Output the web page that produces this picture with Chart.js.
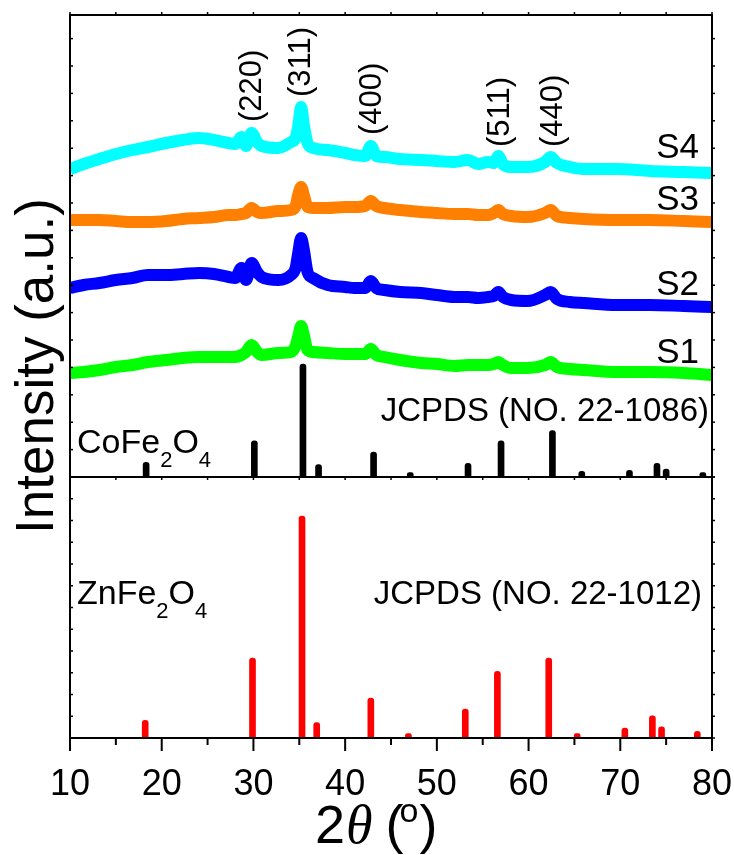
<!DOCTYPE html>
<html>
<head>
<meta charset="utf-8">
<title>XRD patterns S1-S4</title>
<script src="https://cdn.jsdelivr.net/npm/chart.js@4.4.1/dist/chart.umd.min.js"></script>
<style>
  html, body { margin: 0; padding: 0; background: #fff; }
  #wrap { width: 734px; height: 855px; }
</style>
</head>
<body>
<div id="wrap"><canvas id="xrd"></canvas></div>
<script>
// 2-theta grid shared by the four measured patterns
const twoTheta = [10, 11.5, 13.2, 15, 16.8, 18.5, 20.5, 22.3, 24.1, 25.7,
  27.3, 28.0, 28.7, 29.2, 29.8, 30.4, 30.9, 32.7, 34.1, 34.6,
  34.9, 35.2, 35.5, 35.9, 36.5, 38.1, 40, 41, 42.2, 42.8,
  43.4, 44.3, 46, 48.3, 50, 51.9, 53.4, 54.5, 55.6, 56.2,
  56.7, 57.2, 58.1, 59.9, 61.8, 62.4, 63.1, 64.5, 66, 69.6,
  73.2, 76.9, 80];

// intensities (a.u., already offset for stacking)
const s1 = [104, 105, 107, 110, 112, 115, 117, 119, 120, 120,
  120, 120, 122, 125, 132, 125, 122, 124, 125, 131,
  141, 151, 142, 127, 125, 124, 123, 123, 123, 128,
  122, 120, 117, 114, 113, 111, 112, 112, 112, 113,
  115, 112, 109, 109, 112, 115, 110, 108, 107, 105,
  105, 104, 102];
const s2 = [189, 192, 194, 197, 199, 202, 202, 203, 204, 203,
  200, 199, 209, 197, 214, 205, 200, 197, 202, 209,
  225, 239, 227, 205, 199, 192, 190, 189, 189, 196,
  189, 187, 185, 184, 182, 180, 180, 179, 180, 181,
  185, 180, 177, 176, 182, 185, 178, 175, 174, 172,
  172, 171, 170];
const s3 = [257, 257, 257, 256, 255, 255, 256, 258, 259, 260,
  262, 262, 263, 264, 269, 265, 264, 266, 267, 271,
  283, 290, 282, 270, 269, 269, 270, 270, 271, 276,
  271, 269, 267, 265, 264, 263, 263, 262, 262, 264,
  267, 263, 261, 260, 264, 267, 261, 259, 258, 257,
  257, 256, 255];
const s4 = [308, 313, 318, 323, 327, 330, 334, 337, 339, 337,
  334, 333, 340, 331, 344, 335, 331, 329, 335, 339,
  352, 370, 352, 334, 329, 327, 324, 322, 321, 331,
  321, 320, 318, 317, 316, 315, 317, 313, 315, 314,
  321, 313, 310, 310, 315, 320, 314, 310, 308, 308,
  306, 305, 304];

const sampleNames = ['S1', 'S2', 'S3', 'S4'];
const sampleColors = ['#00ff00', '#0000ff', '#ff8000', '#00ffff'];

// reference cards, relative intensity in %
const cofePos = [18.3, 30.1, 35.4, 37.1, 43.1, 47.1, 53.4, 57.0, 62.6, 65.8, 71.0, 74.0, 75.0, 79.0];
const cofeRel = [13, 32, 100, 11, 22, 4, 12, 32, 41, 5, 6, 12, 7, 4];
const znfePos = [18.2, 29.9, 35.3, 36.9, 42.8, 46.9, 53.1, 56.6, 62.2, 65.3, 70.5, 73.5, 74.5, 78.4];
const znfeRel = [8, 36, 100, 7, 18, 2, 13, 30, 36, 2, 4.5, 10, 5, 3];

const peakLabels = ['(220)', '(311)', '(400)', '(511)', '(440)'];
const peakAngles = [29.9, 35.2, 43.0, 56.9, 62.7];

const FONT = '"Liberation Sans", Arial, sans-serif';
const COFE_SCALE = 1.13; // a.u. per % in the upper panel

const curve = (ys) => twoTheta.map((t, i) => ({ x: t, y: ys[i] }));
const sampleSets = [s1, s2, s3, s4].map((ys, i) => ({
  type: 'line',
  label: sampleNames[i],
  data: curve(ys),
  yAxisID: 'yTop',
  borderColor: sampleColors[i],
  borderWidth: 12,
  borderJoinStyle: 'round',
  pointRadius: 0,
  cubicInterpolationMode: 'monotone',
  fill: false,
}));

const stickSet = (label, pos, rel, k, color, axis) => ({
  type: 'bar',
  label,
  data: pos.map((p, i) => ({ x: p, y: rel[i] * k })),
  yAxisID: axis,
  backgroundColor: color,
  barThickness: 6,
  borderRadius: 3,
  borderSkipped: 'start',
  stack: 'cards',
});

function line(ctx, x1, y1, x2, y2) {
  ctx.beginPath();
  ctx.moveTo(x1, y1);
  ctx.lineTo(x2, y2);
  ctx.stroke();
}

// box, panel divider and the small tick marks
const frame = {
  id: 'frame',
  afterDatasetsDraw(chart) {
    const { ctx, chartArea: a, scales: { x, yTop, yBot } } = chart;
    const mid = yTop.bottom;
    ctx.save();
    ctx.strokeStyle = '#000';
    ctx.lineWidth = 2;
    ctx.strokeRect(a.left, a.top, a.right - a.left, a.bottom - a.top);
    line(ctx, a.left, mid, a.right, mid);
    ctx.lineWidth = 1.5;
    [yTop, yBot].forEach((s) => {
      s.ticks.forEach((t) => {
        const py = s.getPixelForValue(t.value);
        line(ctx, a.left, py, a.left + 3, py);
        line(ctx, a.right, py, a.right + 3, py);
      });
    });
    for (let v = 10; v <= 80; v += 5) {
      const px = x.getPixelForValue(v);
      ctx.lineWidth = 2;
      line(ctx, px, a.bottom, px, a.bottom + (v % 10 === 0 ? 13 : 7));
      ctx.lineWidth = 1.5;
      line(ctx, px, mid, px, mid + 3);
      line(ctx, px, a.top, px, a.top - 3);
    }
    ctx.restore();
  },
};

function formula(ctx, parts, x, y) {
  parts.forEach(([s, sub]) => {
    ctx.font = (sub ? '22px ' : '34px ') + FONT;
    ctx.fillText(s, x, sub ? y + 14 : y);
    x += ctx.measureText(s).width;
  });
}

// axis titles and annotations
const notes = {
  id: 'notes',
  afterDraw(chart) {
    const { ctx, chartArea: a, scales: { x, yTop, yBot } } = chart;
    ctx.save();
    ctx.fillStyle = '#000';
    ctx.textBaseline = 'alphabetic';

    // y title
    ctx.save();
    ctx.translate(53, 366);
    ctx.rotate(-Math.PI / 2);
    ctx.font = '53px ' + FONT;
    ctx.textAlign = 'center';
    ctx.fillText('Intensity (a.u.)', 0, 0);
    ctx.restore();

    // x title: 2θ (°)
    ctx.textAlign = 'left';
    let cx = 315;
    const by = 843;
    ctx.font = '54px ' + FONT;
    ctx.fillText('2', cx, by);
    cx += ctx.measureText('2').width + 1;
    ctx.font = 'italic 54px "Liberation Serif", serif';
    ctx.fillText('\u03b8', cx, by);
    cx += ctx.measureText('\u03b8').width + 13;
    ctx.font = '54px ' + FONT;
    ctx.fillText('(', cx, by);
    cx += ctx.measureText('(').width - 4;
    ctx.font = '34px ' + FONT;
    ctx.fillText('o', cx, 822);
    cx += ctx.measureText('o').width + 1;
    ctx.font = '54px ' + FONT;
    ctx.fillText(')', cx, by);

    // reflection indices
    ctx.font = '31px ' + FONT;
    const labelBase = [355, 380, 342, 330, 330];
    peakLabels.forEach((lbl, i) => {
      ctx.save();
      ctx.translate(x.getPixelForValue(peakAngles[i]), yTop.getPixelForValue(labelBase[i]));
      ctx.rotate(-Math.PI / 2);
      ctx.textAlign = 'left';
      ctx.textBaseline = 'middle';
      ctx.fillText(lbl, 0, 0);
      ctx.restore();
    });

    // sample names
    ctx.font = '35px ' + FONT;
    ctx.textAlign = 'right';
    const nameBase = [114, 182, 267, 319];
    sampleNames.forEach((n, i) => {
      ctx.fillText(n, a.right - 13, yTop.getPixelForValue(nameBase[i]));
    });

    // card labels
    ctx.font = '33px ' + FONT;
    ctx.fillText('JCPDS (NO. 22-1086)', a.right - 3, yTop.getPixelForValue(56));
    ctx.fillText('JCPDS (NO. 22-1012)', a.right - 10, yBot.getPixelForValue(60.5));
    ctx.textAlign = 'left';
    formula(ctx, [['CoFe', false], ['2', true], ['O', false], ['4', true]], a.left + 7, yTop.getPixelForValue(24));
    formula(ctx, [['ZnFe', false], ['2', true], ['O', false], ['4', true]], a.left + 7, yBot.getPixelForValue(60.5));
    ctx.restore();
  },
};

new Chart(document.getElementById('xrd'), {
  type: 'line',
  data: {
    datasets: [
      ...sampleSets,
      stickSet('CoFe2O4', cofePos, cofeRel, COFE_SCALE, '#000000', 'yTop'),
      stickSet('ZnFe2O4', znfePos, znfeRel, 1, '#ff0000', 'yBot'),
    ],
  },
  options: {
    responsive: true,
    maintainAspectRatio: false,
    animation: false,
    layout: { padding: { left: 70, right: 22, top: 15, bottom: 0 } },
    plugins: {
      legend: { display: false },
      tooltip: { enabled: false },
    },
    scales: {
      x: {
        type: 'linear',
        min: 10,
        max: 80,
        offset: false,
        grid: { display: false, offset: false, drawTicks: false },
        border: { display: false },
        ticks: {
          stepSize: 10,
          color: '#000',
          padding: 25,
          maxRotation: 0,
          autoSkip: false,
          font: { family: FONT, size: 36 },
        },
        afterFit(s) {
          s.height = 117;
          // end labels fit inside the page margins already
          s.paddingLeft = 0;
          s.paddingRight = 0;
        },
      },
      yBot: {
        type: 'linear',
        position: 'left',
        stack: 'panels',
        stackWeight: 261,
        stacked: false,
        min: 0,
        max: 117.6,
        ticks: { display: false, stepSize: 9.8, includeBounds: false },
        grid: { display: false, drawTicks: false },
        border: { display: false },
        afterFit(s) { s.width = 0; },
      },
      yTop: {
        type: 'linear',
        position: 'left',
        stack: 'panels',
        stackWeight: 462,
        stacked: false,
        min: 0,
        max: 462,
        ticks: { display: false, stepSize: 27.4, includeBounds: false },
        grid: { display: false, drawTicks: false },
        border: { display: false },
        afterFit(s) { s.width = 0; },
      },
    },
  },
  plugins: [frame, notes],
});
</script>
</body>
</html>
